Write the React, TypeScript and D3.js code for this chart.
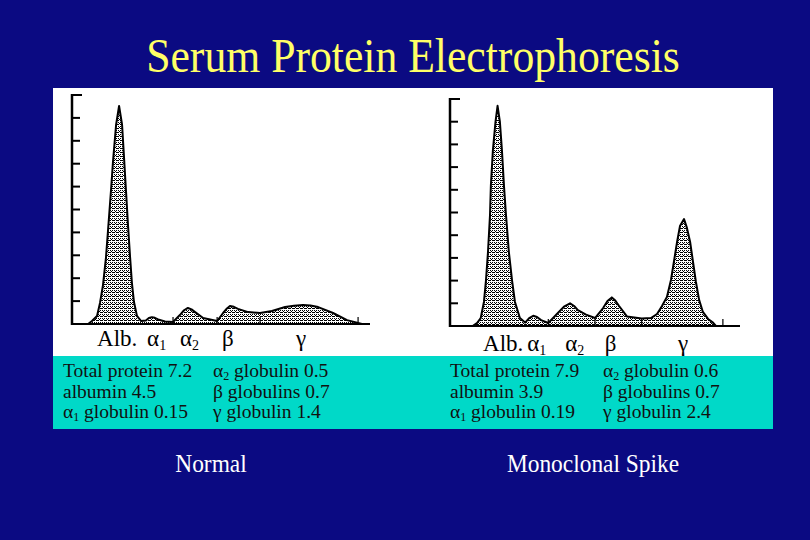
import * as React from 'react';
import * as d3 from 'd3';

// fraction labels under each trace
const fractions = ['Alb.', 'α', 'α', 'β', 'γ'];
const fractionSubs = ['', '1', '2', '', ''];

// normal serum trace (mobility 0-100, density in tick units 0-10)
const normalMobility = [5.4, 6.7, 8.4, 9.4, 10.4, 11.4, 12.1, 13.1, 13.8, 14.8, 15.8, 16.8, 17.4, 18.1, 18.8, 19.5, 20.1, 20.8, 21.8, 23.2, 24.8, 25.8, 26.8, 27.8, 28.9, 31.2, 33.9, 36.2, 37.6, 38.9, 40.1, 41.3, 44.0, 48.7, 50.7, 52.0, 53.0, 54.3, 55.7, 59.1, 63.1, 67.1, 71.5, 74.5, 77.5, 80.0, 82.6, 87.6, 92.3, 96.0, 97.3];
const normalDensity = [0, 0.13, 0.35, 0.92, 1.7, 2.9, 4.1, 5.85, 7.16, 8.7, 9.52, 8.7, 7.4, 5.85, 4.3, 2.9, 1.8, 0.96, 0.35, 0.13, 0.15, 0.26, 0.3, 0.27, 0.2, 0.11, 0.09, 0.39, 0.6, 0.7, 0.64, 0.52, 0.26, 0.13, 0.48, 0.68, 0.79, 0.75, 0.66, 0.52, 0.48, 0.57, 0.74, 0.8, 0.83, 0.81, 0.74, 0.48, 0.17, 0.04, 0];
const normalDividers = [33.9, 48.7, 63.1, 96.0];
const normalLabelAt = [8.4, 25.2, 36.2, 50.3, 75.2];

// monoclonal spike trace
const spikeMobility = [7.8, 9.3, 10.6, 11.7, 12.4, 13.1, 13.8, 14.1, 14.8, 15.7, 16.4, 17.2, 17.9, 18.6, 19.3, 20.3, 21.4, 22.4, 24.1, 25.9, 27.3, 28.7, 30.0, 31.4, 33.9, 37.2, 39.3, 41.4, 42.8, 44.1, 46.9, 50.0, 52.8, 54.3, 55.8, 57.0, 58.3, 61.0, 66.1, 69.3, 71.4, 73.1, 74.8, 76.2, 77.2, 78.3, 79.3, 80.7, 81.7, 82.8, 83.8, 84.8, 85.9, 87.2, 89.0, 90.7, 91.7];
const spikeDensity = [0, 0.13, 0.35, 1.06, 2.0, 3.26, 4.9, 6.2, 7.75, 9.0, 9.7, 9.0, 7.75, 6.2, 4.9, 3.26, 2.0, 1.06, 0.35, 0.15, 0.35, 0.45, 0.4, 0.26, 0.13, 0.57, 0.85, 1.0, 0.88, 0.7, 0.5, 0.35, 0.79, 1.1, 1.26, 1.12, 0.88, 0.42, 0.33, 0.35, 0.53, 0.88, 1.28, 2.03, 2.82, 3.7, 4.4, 4.71, 4.32, 3.7, 2.82, 1.94, 1.15, 0.62, 0.31, 0.15, 0];
const spikeDividers = [33.9, 50.0, 66.1, 94.1];
const spikeLabelAt = [11.4, 26.6, 39.7, 53.4, 78.6];

const yTicks = [1, 2, 3, 4, 5, 6, 7, 8, 9, 10];

// summary table
const leftRowNames = [['', '', 'Total protein'], ['', '', 'albumin'], ['α', '1', ' globulin']];
const rightRowNames = [['α', '2', ' globulin'], ['β', '', ' globulins'], ['γ', '', ' globulin']];
const normalLeftValues = ['7.2', '4.5', '0.15'];
const normalRightValues = ['0.5', '0.7', '1.4'];
const spikeLeftValues = ['7.9', '3.9', '0.19'];
const spikeRightValues = ['0.6', '0.7', '2.4'];

const captions = ['Normal', 'Monoclonal Spike'];

const serif = '"Liberation Serif", "Times New Roman", serif';

type TraceProps = {
  mobility: number[];
  density: number[];
  dividers: number[];
  labelAt: number[];
  x0: number;
  x1: number;
  base: number;
  top: number;
  labelY: number;
};

const Trace = ({ mobility, density, dividers, labelAt, x0, x1, base, top, labelY }: TraceProps) => {
  const x = d3.scaleLinear().domain([0, 100]).range([x0, x1]);
  const y = d3.scaleLinear().domain([0, 10]).range([base, top]);
  const pts = mobility.map((m, i) => [m, density[i]] as [number, number]);
  const area = d3
    .area<[number, number]>()
    .x((d) => x(d[0]))
    .y0(base)
    .y1((d) => y(d[1]));
  const line = d3
    .line<[number, number]>()
    .x((d) => x(d[0]))
    .y((d) => y(d[1]));

  return (
    <g>
      <path d={area(pts) || ''} fill="url(#speckle)" />
      <path d={line(pts) || ''} fill="none" stroke="#000" strokeWidth={2} strokeLinejoin="round" />
      <line x1={x0} x2={x0} y1={y(10) - 1} y2={base + 1} stroke="#000" strokeWidth={2.5} />
      <line x1={x0} x2={x1} y1={base} y2={base} stroke="#000" strokeWidth={2} />
      {yTicks.map((t) => (
        <line key={t} x1={x0} x2={x0 + (t === 10 ? 10 : 8)} y1={y(t)} y2={y(t)} stroke="#000" strokeWidth={2} />
      ))}
      {dividers.map((d) => (
        <line key={d} x1={x(d)} x2={x(d)} y1={base - 7} y2={base + 1} stroke="#000" strokeWidth={1.2} />
      ))}
      {fractions.map((f, i) => (
        <text key={i} x={x(labelAt[i])} y={labelY} fontFamily={serif} fontSize={23} fill="#000">
          {f}
          {fractionSubs[i] && (
            <tspan fontSize={14} dy={4}>
              {fractionSubs[i]}
            </tspan>
          )}
        </text>
      ))}
    </g>
  );
};

const Summary = ({ x, xb, leftValues, rightValues }: { x: number; xb: number; leftValues: string[]; rightValues: string[] }) => {
  const rowY = d3.scaleLinear().domain([0, 2]).range([377, 418]);
  const renderRow = (name: string[], value: string, xx: number, i: number) => (
    <text key={xx + '-' + i} x={xx} y={rowY(i)} fontFamily={serif} fontSize={19.5} fill="#111">
      {name[0]}
      {name[1] && (
        <tspan fontSize={12} dy={3}>
          {name[1]}
        </tspan>
      )}
      <tspan dy={name[1] ? -3 : 0}>{name[2] + ' ' + value}</tspan>
    </text>
  );
  return (
    <g>
      {leftRowNames.map((n, i) => renderRow(n, leftValues[i], x, i))}
      {rightRowNames.map((n, i) => renderRow(n, rightValues[i], xb, i))}
    </g>
  );
};

export default function App() {
  const width = 810;
  const height = 540;
  return (
    <svg width={width} height={height} style={{ position: 'absolute', left: 0, top: 0, display: 'block' }}>
      <defs>
        <pattern id="speckle" width={4} height={4} patternUnits="userSpaceOnUse">
          <rect width={4} height={4} fill="#fff" />
          <rect x={0} y={0} width={3} height={1} fill="#000" shapeRendering="crispEdges" />
          <rect x={0} y={2} width={1} height={1} fill="#000" shapeRendering="crispEdges" />
          <rect x={2} y={2} width={1} height={1} fill="#000" shapeRendering="crispEdges" />
          <rect x={3} y={3} width={1} height={1} fill="#000" shapeRendering="crispEdges" />
        </pattern>
      </defs>
      <rect width={width} height={height} fill="#0b0a82" />
      <text transform="translate(413,72) scale(0.91,1)" textAnchor="middle" fontFamily={serif} fontSize={48} fill="#ffff66">
        Serum Protein Electrophoresis
      </text>
      <rect x={53} y={88} width={720} height={268} fill="#fff" />
      <Trace
        mobility={normalMobility}
        density={normalDensity}
        dividers={normalDividers}
        labelAt={normalLabelAt}
        x0={72}
        x1={370}
        base={324}
        top={95}
        labelY={346}
      />
      <Trace
        mobility={spikeMobility}
        density={spikeDensity}
        dividers={spikeDividers}
        labelAt={spikeLabelAt}
        x0={450}
        x1={740}
        base={326}
        top={99}
        labelY={351}
      />
      <rect x={53} y={356} width={720} height={73} fill="#00d9c8" />
      <Summary x={63} xb={213} leftValues={normalLeftValues} rightValues={normalRightValues} />
      <Summary x={450} xb={603} leftValues={spikeLeftValues} rightValues={spikeRightValues} />
      <text transform="translate(211,472) scale(0.9,1)" textAnchor="middle" fontFamily={serif} fontSize={26} fill="#fff">
        {captions[0]}
      </text>
      <text transform="translate(593,472) scale(0.9,1)" textAnchor="middle" fontFamily={serif} fontSize={26} fill="#fff">
        {captions[1]}
      </text>
    </svg>
  );
}
